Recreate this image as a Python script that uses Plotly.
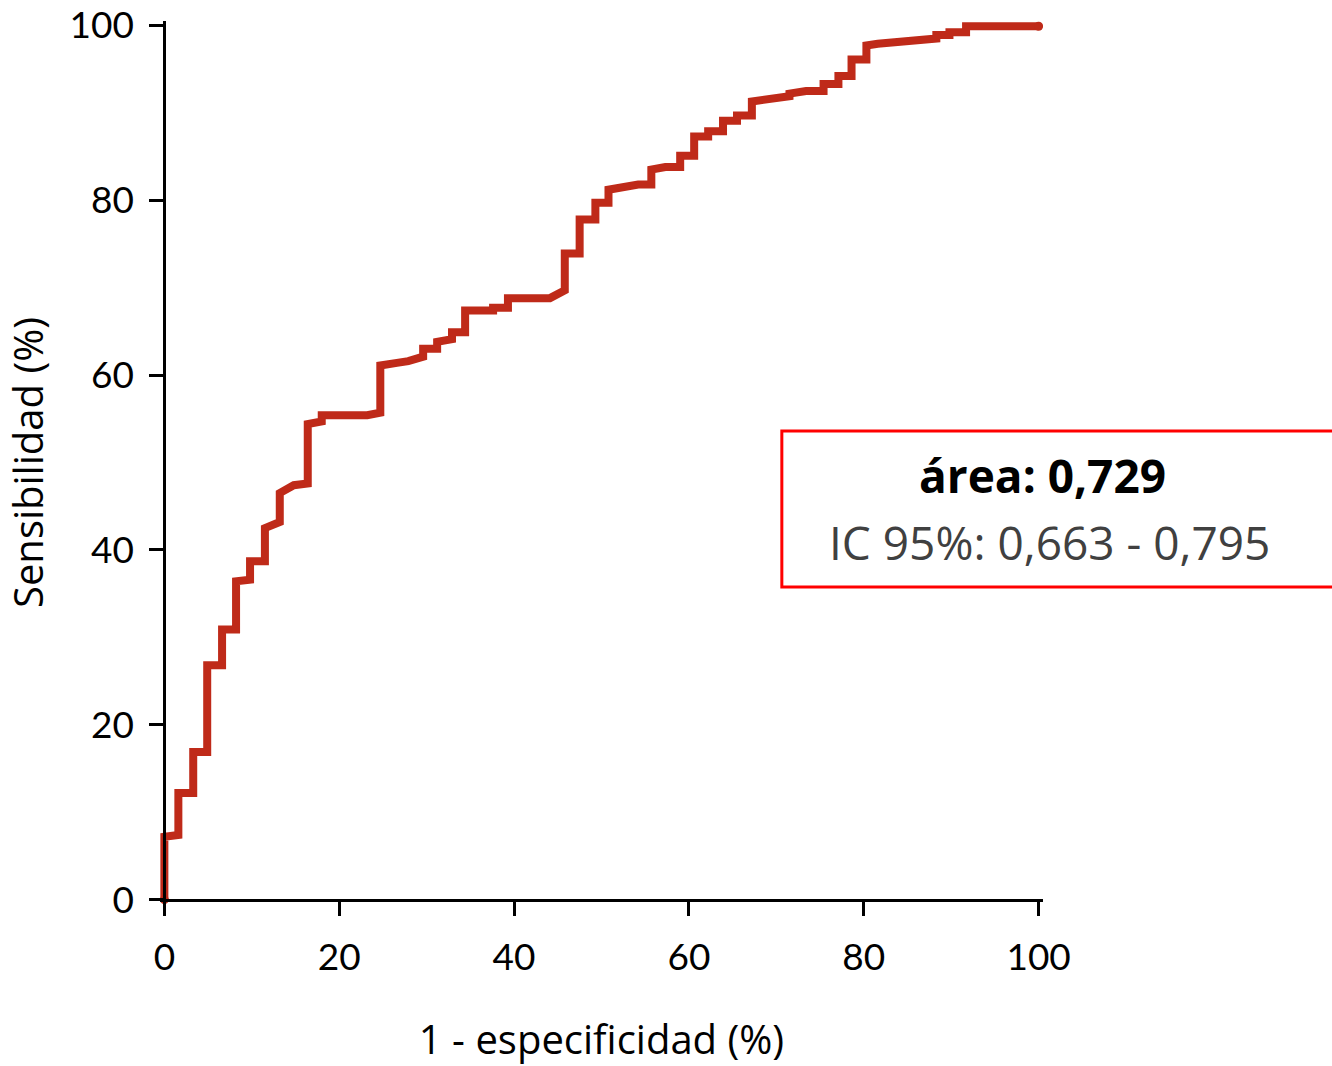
import plotly.graph_objects as go

# ROC curve vertices (1 - especificidad %, sensibilidad %)
fpr = [0, 0, 1.6, 1.6, 3.3, 3.3, 4.9, 4.9, 6.6, 6.6, 8.2, 8.2, 9.8, 9.8, 11.5, 11.5,
       13.2, 13.2, 14.8, 16.4, 16.4, 18.0, 18.0, 23.2, 24.7, 24.7, 26.6, 27.9, 29.6, 29.6,
       31.2, 31.2, 32.9, 32.9, 34.4, 34.4, 37.6, 37.6, 39.3, 39.3, 44.1, 45.8, 45.8,
       47.5, 47.5, 49.3, 49.3, 50.8, 50.8, 54.2, 55.7, 55.7, 57.3, 59.0, 59.0, 60.6, 60.6,
       62.2, 62.2, 63.9, 63.9, 65.5, 65.5, 67.2, 67.2, 70.0, 71.5, 71.5, 73.4, 75.4, 75.4,
       77.1, 77.1, 78.6, 78.6, 80.3, 80.3, 81.6, 85.1, 85.1, 88.3, 88.3, 89.8, 89.8,
       91.7, 91.7, 100]
tpr = [0, 7.2, 7.4, 12.2, 12.2, 16.9, 16.9, 26.8, 26.8, 30.9, 30.9, 36.4, 36.6, 38.7, 38.7, 42.5,
       43.2, 46.5, 47.4, 47.6, 54.4, 54.7, 55.4, 55.4, 55.7, 61.1, 61.4, 61.6, 62.1, 63.0,
       63.0, 63.8, 64.1, 64.9, 64.9, 67.4, 67.4, 67.7, 67.7, 68.8, 68.8, 69.7, 73.9,
       73.9, 77.8, 77.8, 79.7, 79.7, 81.2, 81.8, 81.8, 83.5, 83.8, 83.8, 85.1, 85.1, 87.3,
       87.3, 87.9, 87.9, 89.1, 89.1, 89.7, 89.7, 91.3, 91.8, 91.9, 92.2, 92.5, 92.5, 93.3,
       93.3, 94.2, 94.2, 96.1, 96.1, 97.7, 97.9, 98.2, 98.4, 98.5, 98.9, 98.9, 99.2,
       99.2, 99.9, 99.9]

tick_vals = [0, 20, 40, 60, 80, 100]
tick_text = ["0", "20", "40", "60", "80", "100"]
x_title = "1 - especificidad (%)"
y_title = "Sensibilidad (%)"
area_text = "<b>área: 0,729</b>"
ci_text = "IC 95%: 0,663 - 0,795"

RED = "#BF2A19"
FONT = "Open Sans"
TICK_FONT = "Lato"
pad = 0.5
pos = pad / (100 + 2 * pad)

fig = go.Figure()
fig.add_trace(go.Scatter(x=fpr, y=tpr, mode="lines",
                         line=dict(color=RED, width=8), hoverinfo="skip"))
fig.add_trace(go.Scatter(x=[fpr[0], fpr[-1]], y=[tpr[0], tpr[-1]], mode="markers",
                         marker=dict(color=RED, size=9), hoverinfo="skip"))

L, R, T, B = 159.6, 288.6, 20.6, 161.6
W = 1332 - L - R
H = 1066 - T - B


def px_x(p):
    return (p - L) / W


def px_y(p):
    return 1 - (p - T) / H


fig.add_shape(type="rect", xref="paper", yref="paper",
              x0=px_x(782), x1=px_x(1345), y0=px_y(587), y1=px_y(431),
              line=dict(color="#FF0000", width=3), fillcolor="white", layer="above")
fig.add_annotation(xref="paper", yref="paper", x=px_x(1043), y=px_y(475),
                   text=area_text, showarrow=False,
                   font=dict(family=FONT, size=46, color="black"),
                   xanchor="center", yanchor="middle")
fig.add_annotation(xref="paper", yref="paper", x=px_x(1050), y=px_y(542),
                   text=ci_text, showarrow=False,
                   font=dict(family=FONT, size=46, color="#404040"),
                   xanchor="center", yanchor="middle")

axis_common = dict(
    range=[-pad, 100 + pad], tickvals=tick_vals, ticktext=tick_text,
    showgrid=False, zeroline=False, showline=True, linecolor="black", linewidth=3,
    ticks="outside", ticklen=14, tickwidth=3, tickcolor="black",
    tickfont=dict(family=TICK_FONT, size=37, color="black"),
    ticklabeloverflow="allow",
    anchor="free", position=pos, fixedrange=True,
)
fig.update_layout(
    width=1332, height=1066,
    margin=dict(l=L, r=R, t=T, b=B, autoexpand=False),
    plot_bgcolor="white", paper_bgcolor="white",
    showlegend=False,
    xaxis=dict(**axis_common, ticklabelstandoff=10,
               title=dict(text=x_title, font=dict(family=FONT, size=40, color="black"),
                          standoff=51)),
    yaxis=dict(**axis_common, ticklabelstandoff=8,
               title=dict(text=y_title, font=dict(family=FONT, size=40, color="black"),
                          standoff=25)),
)
fig.write_html("out.html")
